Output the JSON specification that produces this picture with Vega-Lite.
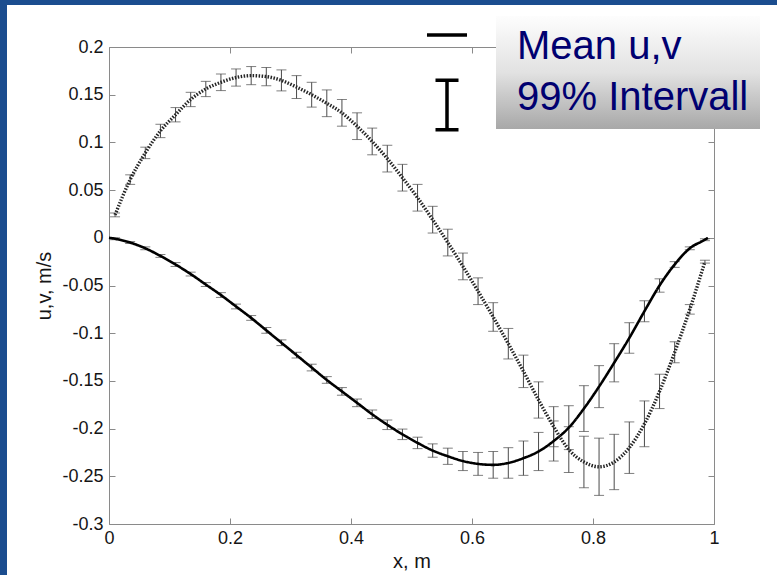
{
  "$schema": "https://vega.github.io/schema/vega-lite/v6.json",
  "width": 770,
  "height": 570,
  "autosize": {"type": "none"},
  "padding": {"left": 7, "top": 5, "right": 0, "bottom": 0},
  "background": "#1b4d8f",
  "view": {"fill": "white", "stroke": null},
  "config": {
    "font": "Liberation Sans",
    "axis": {
      "grid": false,
      "domainColor": "#8a8a8a",
      "tickColor": "#8a8a8a",
      "tickSize": -6,
      "labelFont": "Liberation Sans",
      "labelFontSize": 18,
      "labelColor": "#151515",
      "titleFont": "Liberation Sans",
      "titleFontSize": 20,
      "titleFontWeight": "normal",
      "titleColor": "#151515",
      "labelFlush": false
    }
  },
  "datasets": {
    "d": [
      {"x": 0, "s": "u", "m": 0, "e": 0},
      {"x": 0.01, "s": "u", "m": -0.001, "e": 0.001},
      {"x": 0.035, "s": "u", "m": -0.005, "e": 0.001},
      {"x": 0.06, "s": "u", "m": -0.011, "e": 0.0015},
      {"x": 0.085, "s": "u", "m": -0.019, "e": 0.0015},
      {"x": 0.11, "s": "u", "m": -0.028, "e": 0.002},
      {"x": 0.135, "s": "u", "m": -0.038, "e": 0.002},
      {"x": 0.16, "s": "u", "m": -0.049, "e": 0.002},
      {"x": 0.185, "s": "u", "m": -0.06, "e": 0.0025},
      {"x": 0.21, "s": "u", "m": -0.072, "e": 0.0025},
      {"x": 0.235, "s": "u", "m": -0.084, "e": 0.0025},
      {"x": 0.26, "s": "u", "m": -0.097, "e": 0.003},
      {"x": 0.285, "s": "u", "m": -0.11, "e": 0.003},
      {"x": 0.31, "s": "u", "m": -0.123, "e": 0.003},
      {"x": 0.335, "s": "u", "m": -0.136, "e": 0.0035},
      {"x": 0.36, "s": "u", "m": -0.149, "e": 0.0035},
      {"x": 0.385, "s": "u", "m": -0.161, "e": 0.004},
      {"x": 0.41, "s": "u", "m": -0.173, "e": 0.004},
      {"x": 0.435, "s": "u", "m": -0.185, "e": 0.0045},
      {"x": 0.46, "s": "u", "m": -0.196, "e": 0.005},
      {"x": 0.485, "s": "u", "m": -0.206, "e": 0.0055},
      {"x": 0.51, "s": "u", "m": -0.215, "e": 0.006},
      {"x": 0.535, "s": "u", "m": -0.223, "e": 0.007},
      {"x": 0.56, "s": "u", "m": -0.229, "e": 0.0085},
      {"x": 0.585, "s": "u", "m": -0.234, "e": 0.01},
      {"x": 0.61, "s": "u", "m": -0.237, "e": 0.012},
      {"x": 0.635, "s": "u", "m": -0.238, "e": 0.014},
      {"x": 0.66, "s": "u", "m": -0.236, "e": 0.016},
      {"x": 0.685, "s": "u", "m": -0.231, "e": 0.018},
      {"x": 0.71, "s": "u", "m": -0.224, "e": 0.02},
      {"x": 0.735, "s": "u", "m": -0.213, "e": 0.021},
      {"x": 0.76, "s": "u", "m": -0.199, "e": 0.023},
      {"x": 0.785, "s": "u", "m": -0.179, "e": 0.024},
      {"x": 0.81, "s": "u", "m": -0.156, "e": 0.022},
      {"x": 0.835, "s": "u", "m": -0.131, "e": 0.02},
      {"x": 0.86, "s": "u", "m": -0.105, "e": 0.016},
      {"x": 0.885, "s": "u", "m": -0.077, "e": 0.011},
      {"x": 0.91, "s": "u", "m": -0.05, "e": 0.007},
      {"x": 0.935, "s": "u", "m": -0.028, "e": 0.003},
      {"x": 0.96, "s": "u", "m": -0.011, "e": 0.0015},
      {"x": 0.985, "s": "u", "m": -0.002, "e": 0.001},
      {"x": 0.99, "s": "u", "m": 0, "e": 0},
      {"x": 0.01, "s": "v", "m": 0.024, "e": 0.002},
      {"x": 0.035, "s": "v", "m": 0.061, "e": 0.005},
      {"x": 0.06, "s": "v", "m": 0.089, "e": 0.006},
      {"x": 0.085, "s": "v", "m": 0.112, "e": 0.007},
      {"x": 0.11, "s": "v", "m": 0.129, "e": 0.0075},
      {"x": 0.135, "s": "v", "m": 0.145, "e": 0.0075},
      {"x": 0.16, "s": "v", "m": 0.156, "e": 0.008},
      {"x": 0.185, "s": "v", "m": 0.163, "e": 0.0087},
      {"x": 0.21, "s": "v", "m": 0.168, "e": 0.009},
      {"x": 0.235, "s": "v", "m": 0.17, "e": 0.0095},
      {"x": 0.26, "s": "v", "m": 0.169, "e": 0.0096},
      {"x": 0.285, "s": "v", "m": 0.165, "e": 0.011},
      {"x": 0.31, "s": "v", "m": 0.158, "e": 0.012},
      {"x": 0.335, "s": "v", "m": 0.15, "e": 0.013},
      {"x": 0.36, "s": "v", "m": 0.141, "e": 0.014},
      {"x": 0.385, "s": "v", "m": 0.131, "e": 0.014},
      {"x": 0.41, "s": "v", "m": 0.117, "e": 0.014},
      {"x": 0.435, "s": "v", "m": 0.101, "e": 0.014},
      {"x": 0.46, "s": "v", "m": 0.083, "e": 0.014},
      {"x": 0.485, "s": "v", "m": 0.063, "e": 0.014},
      {"x": 0.51, "s": "v", "m": 0.042, "e": 0.014},
      {"x": 0.535, "s": "v", "m": 0.019, "e": 0.014},
      {"x": 0.56, "s": "v", "m": -0.005, "e": 0.014},
      {"x": 0.585, "s": "v", "m": -0.03, "e": 0.014},
      {"x": 0.61, "s": "v", "m": -0.056, "e": 0.014},
      {"x": 0.635, "s": "v", "m": -0.083, "e": 0.015},
      {"x": 0.66, "s": "v", "m": -0.111, "e": 0.016},
      {"x": 0.685, "s": "v", "m": -0.14, "e": 0.017},
      {"x": 0.71, "s": "v", "m": -0.17, "e": 0.019},
      {"x": 0.735, "s": "v", "m": -0.198, "e": 0.021},
      {"x": 0.76, "s": "v", "m": -0.222, "e": 0.024},
      {"x": 0.785, "s": "v", "m": -0.235, "e": 0.027},
      {"x": 0.81, "s": "v", "m": -0.24, "e": 0.03},
      {"x": 0.835, "s": "v", "m": -0.235, "e": 0.029},
      {"x": 0.86, "s": "v", "m": -0.22, "e": 0.027},
      {"x": 0.885, "s": "v", "m": -0.195, "e": 0.024},
      {"x": 0.91, "s": "v", "m": -0.161, "e": 0.018},
      {"x": 0.935, "s": "v", "m": -0.12, "e": 0.011},
      {"x": 0.96, "s": "v", "m": -0.075, "e": 0.005},
      {"x": 0.985, "s": "v", "m": -0.025, "e": 0.0015}
    ],
    "leg": [
      {"sym": "line", "lab": "Mean u,v"},
      {"sym": "bar", "lab": "99% Intervall"}
    ]
  },
  "resolve": {"axis": {"x": "independent", "y": "independent"}},
  "layer": [
    {
      "data": {"name": "d"},
      "transform": [{"filter": "datum.e > 0"}],
      "mark": {"type": "errorbar", "color": "#4a4a4a", "thickness": 1, "ticks": {"size": 10, "thickness": 1}},
      "encoding": {
        "x": {"field": "x", "type": "quantitative", "scale": {"domain": [0, 1], "range": [102, 707], "nice": false, "zero": false}, "axis": null},
        "y": {"field": "m", "type": "quantitative", "scale": {"domain": [-0.3, 0.2], "range": [519, 42], "nice": false, "zero": false}, "axis": null},
        "yError": {"field": "e"}
      }
    },
    {
      "data": {"name": "d"},
      "mark": {"type": "line", "interpolate": "monotone"},
      "encoding": {
        "x": {"field": "x", "type": "quantitative", "scale": {"domain": [0, 1], "range": [102, 707], "nice": false, "zero": false},
          "axis": {"orient": "bottom", "offset": -51, "values": [0, 0.2, 0.4, 0.6, 0.8, 1], "format": "~g", "title": "x, m", "labelPadding": 11, "titlePadding": 4}},
        "y": {"field": "m", "type": "quantitative", "scale": {"domain": [-0.3, 0.2], "range": [519, 42], "nice": false, "zero": false},
          "axis": {"orient": "left", "offset": -102, "values": [-0.3, -0.25, -0.2, -0.15, -0.1, -0.05, 0, 0.05, 0.1, 0.15, 0.2], "format": "~g", "labelExpr": "replace(datum.label, '\u2212', '-')", "title": "u,v, m/s", "labelPadding": 12, "titlePadding": 7}},
        "strokeDash": {"field": "s", "type": "nominal", "scale": {"domain": ["u", "v"], "range": [[1, 0], [1.5, 1.5]]}, "legend": null},
        "color": {"field": "s", "type": "nominal", "scale": {"domain": ["u", "v"], "range": ["#000000", "#262626"]}, "legend": null},
        "strokeWidth": {"field": "s", "type": "ordinal", "scale": {"domain": ["u", "v"], "range": [2.6, 3.4]}, "legend": null}
      }
    },
    {
      "data": {"name": "d"},
      "mark": {"type": "line", "opacity": 0},
      "encoding": {
        "x": {"field": "x", "type": "quantitative", "scale": {"domain": [0, 1], "range": [102, 707], "nice": false, "zero": false},
          "axis": {"orient": "top", "offset": -42, "values": [0, 0.2, 0.4, 0.6, 0.8, 1], "labels": false, "title": null}},
        "y": {"field": "m", "type": "quantitative", "scale": {"domain": [-0.3, 0.2], "range": [519, 42], "nice": false, "zero": false},
          "axis": {"orient": "right", "offset": -63, "values": [-0.3, -0.25, -0.2, -0.15, -0.1, -0.05, 0, 0.05, 0.1, 0.15, 0.2], "labels": false, "title": null}},
        "detail": {"field": "s", "type": "nominal"}
      }
    },
    {
      "data": {"name": "leg"},
      "mark": {"type": "point", "opacity": 0},
      "encoding": {
        "stroke": {"datum": 0.5, "type": "quantitative", "scale": {"domain": [0, 0.5, 1], "range": ["#fdfdfd", "#e2e2e2", "#a8a8a8"]}, "legend": null},
        "shape": {"field": "sym", "type": "nominal",
          "scale": {"domain": ["line", "bar"], "range": ["M-0.87,0H0.87", "M-0.5,-1.08H0.5M0,-1.08V1.08M-0.5,1.08H0.5"]},
          "legend": {"orient": "none", "legendX": 415, "legendY": 3, "title": null, "direction": "vertical", "padding": 0,
            "symbolSize": 2116, "symbolStrokeWidth": 3.5, "symbolStrokeColor": "#000000", "symbolFillColor": "transparent", "symbolOpacity": 1,
            "symbolOffset": 0, "labelExpr": "''", "labelFontSize": 1, "clipHeight": 54, "rowPadding": 16}},
        "fill": {"field": "lab", "type": "nominal",
          "scale": {"domain": ["Mean u,v", "99% Intervall"], "range": ["#000000", "#000000"]},
          "legend": {"orient": "none", "legendX": 489, "legendY": 11, "title": null, "direction": "vertical", "padding": 11,
            "fillColor": {"expr": "gradient('stroke', [0, 0], [0, 1], 12)"},
            "symbolType": "circle", "symbolSize": 4, "symbolOpacity": 0, "symbolOffset": 0, "labelOffset": -30, "labelFontSize": 40, "labelFont": "Liberation Sans",
            "labelExpr": "datum.label + '\u00a0\u00a0\u00a0\u00a0\u00a0\u00a0'",
            "labelColor": "#000070", "labelLimit": 600, "clipHeight": 40, "rowPadding": 11}}
      }
    }
  ]
}
